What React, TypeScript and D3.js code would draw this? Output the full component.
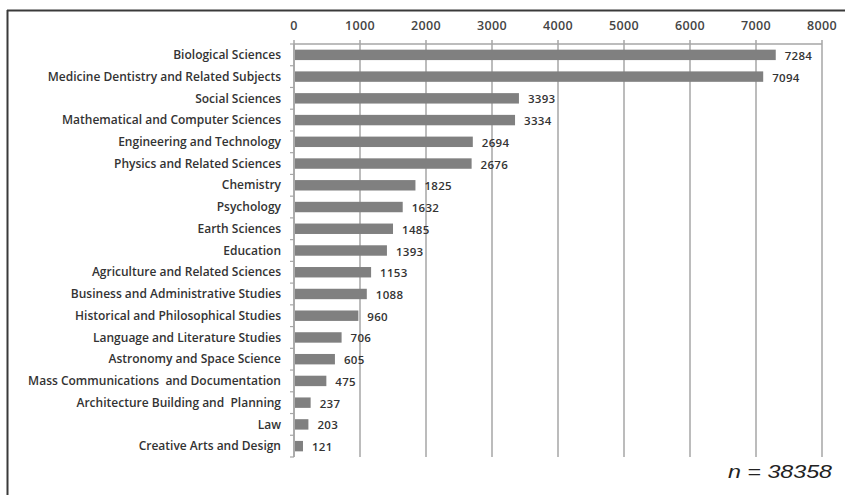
import React from 'react'
import * as d3 from 'd3'

const categories = [
  'Biological Sciences',
  'Medicine Dentistry and Related Subjects',
  'Social Sciences',
  'Mathematical and Computer Sciences',
  'Engineering and Technology',
  'Physics and Related Sciences',
  'Chemistry',
  'Psychology',
  'Earth Sciences',
  'Education',
  'Agriculture and Related Sciences',
  'Business and Administrative Studies',
  'Historical and Philosophical Studies',
  'Language and Literature Studies',
  'Astronomy and Space Science',
  'Mass Communications  and Documentation',
  'Architecture Building and  Planning',
  'Law',
  'Creative Arts and Design',
]

const counts = [7284, 7094, 3393, 3334, 2694, 2676, 1825, 1632, 1485, 1393, 1153, 1088, 960, 706, 605, 475, 237, 203, 121]

const xTicks = [0, 1000, 2000, 3000, 4000, 5000, 6000, 7000, 8000]

const total = 'n = 38358'

const W = 845
const H = 495
const margin = { top: 44, right: 23, bottom: 38, left: 294 }

export default function App() {
  const innerW = W - margin.left - margin.right
  const innerH = H - margin.top - margin.bottom

  const x = d3.scaleLinear().domain([0, 8000]).range([0, innerW])
  const y = d3.scaleBand().domain(categories).range([0, innerH]).paddingInner(0.52).paddingOuter(0.26)
  const bounds = d3.range(categories.length + 1).map(i => i * (innerH / categories.length))

  const font = '"Open Sans", "DejaVu Sans", sans-serif'

  return (
    <svg width={W} height={H} style={{ position: 'absolute', left: 0, top: 0, background: '#fff' }}>
      <line x1={7.5} y1={10} x2={7.5} y2={H} stroke="#3a3a3a" strokeWidth={2} />
      <line x1={7} y1={10.5} x2={W} y2={10.5} stroke="#3a3a3a" strokeWidth={2} />
      <g transform={`translate(${margin.left},${margin.top})`}>
        {xTicks.map(t => (
          <g key={t}>
            <line x1={x(t)} x2={x(t)} y1={-4} y2={innerH} stroke="#a6a6a6" strokeWidth={1.5} />
            <text x={x(t)} y={-14} textAnchor="middle" fontFamily={font} fontSize={12.5} fontWeight={600} letterSpacing={0.4} fill="#444">
              {t}
            </text>
          </g>
        ))}
        <line x1={0} x2={innerW} y1={0} y2={0} stroke="#a6a6a6" strokeWidth={1.5} />
        <line x1={0} x2={0} y1={0} y2={innerH} stroke="#a6a6a6" strokeWidth={1.5} />
        {bounds.map((b, i) => (
          <line key={i} x1={-4} x2={0} y1={b} y2={b} stroke="#a6a6a6" strokeWidth={1.2} />
        ))}
        {categories.map((c, i) => {
          const yc = (y(c) ?? 0) + y.bandwidth() / 2
          return (
            <g key={c}>
              <rect x={1} y={y(c)} width={x(counts[i])} height={y.bandwidth()} fill="#808080" />
              <text x={-13} y={yc} dy="0.35em" textAnchor="end" fontFamily={font} fontSize={12} fontWeight={600} fill="#333" style={{ whiteSpace: 'pre' }}>
                {c}
              </text>
              <text x={x(counts[i]) + 10} y={yc + 1} dy="0.35em" fontFamily={font} fontSize={11.5} fontWeight={600} letterSpacing={0.3} fill="#333">
                {counts[i]}
              </text>
            </g>
          )
        })}
      </g>
      <text x={832} y={478} textAnchor="end" fontFamily='"Liberation Sans", Arial, sans-serif' fontStyle="italic" fontSize={19} fill="#222" textLength={104} lengthAdjust="spacingAndGlyphs">
        {total}
      </text>
    </svg>
  )
}
